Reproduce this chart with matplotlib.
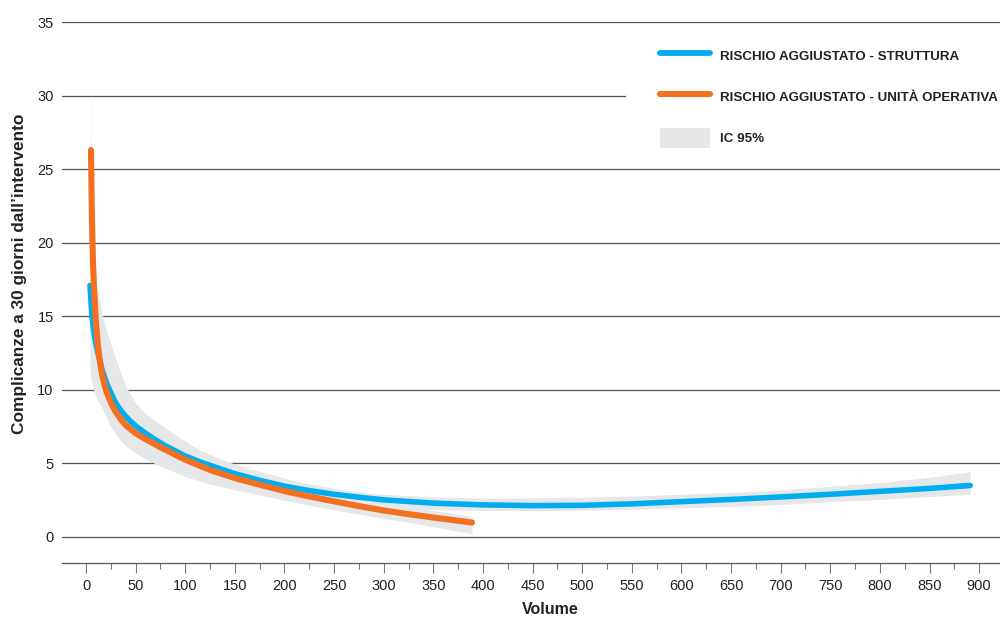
import matplotlib
matplotlib.use("Agg")
import matplotlib.pyplot as plt
from matplotlib.lines import Line2D
from matplotlib.patches import Patch

# ---------------- data ----------------
blue_x = [4, 5, 6, 7, 8, 10, 12, 14, 16, 18, 20, 23, 26, 30, 35, 40, 45, 50, 60, 70, 80, 90,
          100, 115, 130, 150, 175, 200, 225, 250, 275, 300, 350, 400, 450, 500, 550, 600,
          650, 700, 750, 800, 850, 891]
blue_y = [17.1, 16.0, 15.0, 14.4, 13.9, 13.1, 12.5, 11.95, 11.4, 11.0, 10.6, 10.1, 9.65, 9.1,
          8.6, 8.2, 7.85, 7.55, 7.05, 6.6, 6.2, 5.85, 5.5, 5.1, 4.75, 4.3, 3.85, 3.45, 3.15,
          2.9, 2.7, 2.52, 2.3, 2.18, 2.13, 2.15, 2.25, 2.4, 2.55, 2.72, 2.9, 3.1, 3.3, 3.5]
blue_lo = [11.2, 10.8, 10.45, 10.2, 9.95, 9.55, 9.25, 9.0, 8.8, 8.58, 8.4, 8.05, 7.7, 7.25,
           6.8, 6.45, 6.1, 5.85, 5.45, 5.1, 4.8, 4.55, 4.3, 3.95, 3.65, 3.35, 3.05, 2.8, 2.55,
           2.35, 2.15, 2.0, 1.85, 1.8, 1.8, 1.82, 1.88, 1.97, 2.07, 2.2, 2.4, 2.55, 2.75, 2.9]
blue_hi = [19.5, 19.2, 18.9, 18.5, 18.0, 17.3, 16.6, 15.9, 15.3, 14.7, 14.2, 13.5, 12.9, 12.1,
           11.1, 10.3, 9.65, 9.1, 8.4, 7.9, 7.4, 6.95, 6.5, 5.9, 5.45, 4.95, 4.45, 4.0, 3.6,
           3.3, 3.05, 2.9, 2.72, 2.65, 2.65, 2.7, 2.78, 2.9, 3.03, 3.2, 3.45, 3.7, 4.05, 4.43]

orange_x = [5, 5.5, 6, 7, 8, 10, 12, 14, 16, 18, 20, 23, 26, 30, 35, 40, 50, 60, 75, 100,
            125, 150, 175, 200, 225, 250, 275, 300, 325, 350, 375, 389]
orange_y = [26.3, 23.7, 21.5, 18.8, 17.0, 14.6, 13.0, 11.95, 11.1, 10.5, 10.0, 9.45, 9.0, 8.5,
            8.0, 7.6, 7.05, 6.65, 6.1, 5.25, 4.55, 4.0, 3.55, 3.12, 2.75, 2.42, 2.1, 1.8,
            1.55, 1.32, 1.1, 0.98]
orange_lo = [20.0, 18.5, 17.0, 15.0, 13.5, 11.5, 10.4, 9.6, 9.0, 8.55, 8.2, 7.75, 7.4, 6.95,
             6.55, 6.2, 5.7, 5.3, 4.8, 4.1, 3.6, 3.2, 2.85, 2.5, 2.15, 1.85, 1.55, 1.25, 1.0,
             0.7, 0.4, 0.2]
orange_hi = [31.8, 26.5, 23.5, 20.5, 18.8, 16.5, 15.0, 13.9, 13.0, 12.3, 11.8, 11.2, 10.7,
             10.1, 9.55, 9.1, 8.4, 7.9, 7.2, 6.3, 5.5, 4.8, 4.25, 3.75, 3.35, 3.0, 2.65, 2.35,
             2.05, 1.8, 1.55, 1.4]

y_ticks = [0, 5, 10, 15, 20, 25, 30, 35]
x_ticks = list(range(0, 901, 50))
x_minor = list(range(25, 901, 50))

legend_labels = ["RISCHIO AGGIUSTATO - STRUTTURA",
                 "RISCHIO AGGIUSTATO - UNITÀ OPERATIVA",
                 "IC 95%"]
x_label = "Volume"
y_label = "Complicanze a 30 giorni dall\u2019intervento"

# ---------------- style ----------------
FONT = ["Liberation Sans Narrow", "Liberation Sans", "DejaVu Sans"]
plt.rcParams["font.family"] = FONT
BLUE = "#00aeef"
ORANGE = "#f37021"
BAND = "#e6e7e8"
GRID = "#555555"

fig = plt.figure(figsize=(10, 6.19), dpi=100)
ax = fig.add_axes([0.062, 1 - 563 / 619, 0.938, 541 / 619])
ax.set_xlim(-24.2, 921)
ax.set_ylim(-1.77, 35.001)

# grid lines
for yv in y_ticks:
    xmax = 0.60 if yv == 30 else 1.0
    ax.axhline(yv, xmin=0, xmax=xmax, color=GRID, lw=0.9, zorder=1)

# confidence bands
ax.fill_between(blue_x, blue_lo, blue_hi, color=BAND, lw=0, zorder=2)
ax.fill_between(orange_x, orange_lo, orange_hi, color=BAND, lw=0, zorder=2)

# lines
ax.plot(blue_x, blue_y, color=BLUE, lw=4.0, solid_capstyle="round", zorder=3)
ax.plot(orange_x, orange_y, color=ORANGE, lw=4.4, solid_capstyle="round", zorder=4)

# axes / ticks
for s in ["top", "right", "left"]:
    ax.spines[s].set_visible(False)
ax.spines["bottom"].set_color(GRID)
ax.spines["bottom"].set_linewidth(0.9)
ax.set_xticks(x_ticks)
ax.set_xticks(x_minor, minor=True)
ax.set_yticks(y_ticks)
ax.tick_params(axis="x", which="major", length=7.5, width=0.8, color="#777777",
               labelsize=10.5, labelcolor="#222222", pad=4)
ax.tick_params(axis="x", which="minor", length=4, width=0.8, color="#777777")
ax.tick_params(axis="y", length=0, labelsize=10.5, labelcolor="#222222", pad=6)

ax.set_xlabel(x_label, fontsize=11.5, fontweight="bold", color="#222222")
ax.xaxis.set_label_coords((550 - 62) / 938, -0.072)
ax.set_ylabel(y_label, fontsize=12.4, fontweight="bold", color="#222222")
ax.yaxis.set_label_coords(-0.037, (563 - 274) / 541)

# legend
handles = [Line2D([], [], color=BLUE, lw=4.2, solid_capstyle="round"),
           Line2D([], [], color=ORANGE, lw=4.4, solid_capstyle="round"),
           Patch(facecolor=BAND, edgecolor="none")]
leg = ax.legend(handles, legend_labels, loc="upper left",
                bbox_to_anchor=(660 / 1000, 1 - 46 / 619), bbox_transform=fig.transFigure,
                frameon=False, handlelength=3.76, handleheight=1.95, handletextpad=0.75,
                labelspacing=1.55, borderpad=0.0, borderaxespad=0.0,
                prop={"family": FONT, "weight": "bold", "size": 9.6})
for t in leg.get_texts():
    t.set_color("#222222")

fig.savefig("out.png", dpi=100)
